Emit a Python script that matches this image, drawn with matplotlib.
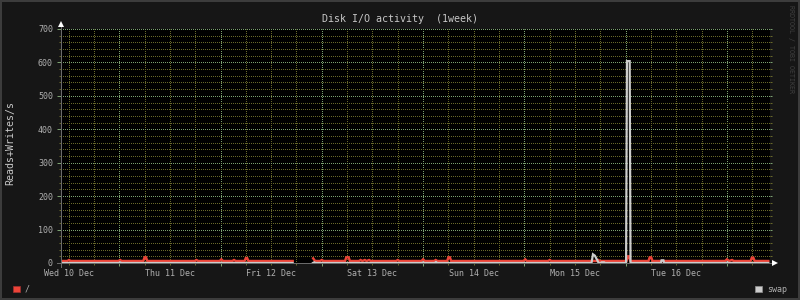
import numpy as np
import matplotlib
matplotlib.use("Agg")
import matplotlib.pyplot as plt
from matplotlib.patches import Rectangle
from matplotlib.transforms import offset_copy

plt.rcParams['font.family'] = ['DejaVu Sans Mono']

# ---------------- data (hours since Wed 10 Dec 00:00) ----------------
title = "Disk I/O activity  (1week)"
y_label = "Reads+Writes/s"
watermark = "RRDTOOL / TOBI OETIKER"
series_names = ["/", "swap"]
day_labels = ["Wed 10 Dec", "Thu 11 Dec", "Fri 12 Dec", "Sat 13 Dec",
              "Sun 14 Dec", "Mon 15 Dec", "Tue 16 Dec"]
x_start, x_end = 10.2, 178.2
y_max = 700

nan = float('nan')
root_hours = [10.2, 11.7, 12.1, 12.5,
              23.8, 24.2, 24.6,
              29.7, 30.0, 30.35, 30.65,
              41.9, 42.3, 42.7,
              47.8, 48.2, 48.6,
              50.8, 51.2, 51.6,
              53.7, 54.0, 54.3, 54.6,
              65.1, 65.2,
              69.95, 70.4,
              71.6, 72.0, 72.4,
              77.5, 77.8, 78.35, 78.65,
              80.8, 81.2, 81.6, 82.2, 82.6, 83.2, 83.6,
              89.6, 90.0, 90.4,
              95.6, 96.0, 96.4,
              98.6, 99.0, 99.4,
              101.7, 102.0, 102.35, 102.65,
              119.8, 120.2, 120.6,
              125.6, 126.0, 126.4,
              137.1, 137.5, 137.9,
              144.2, 144.5, 144.8, 145.1,
              149.4, 149.7, 150.05, 150.35,
              167.6, 168.0, 168.5, 169.2, 169.6,
              173.6, 173.9, 174.25, 174.55,
              177.8]
root_values = [6, 6, 9, 6,
               6, 9, 6,
               6, 17, 17, 6,
               6, 9, 6,
               6, 11, 6,
               6, 9, 6,
               6, 15, 15, 6,
               6, nan,
               14, 6,
               6, 9, 6,
               6, 17, 17, 6,
               6, 9, 6, 9, 6, 9, 6,
               6, 9, 6,
               6, 11, 6,
               6, 9, 6,
               6, 17, 17, 6,
               6, 11, 6,
               6, 9, 6,
               6, 9, 6,
               6, 20, 20, 6,
               6, 17, 17, 6,
               6, 11, 6, 9, 6,
               6, 16, 16, 6,
               6]

swap_hours = [10.2, 23.9, 24.2, 24.5,
              65.1, 65.2,
              69.9, 70.2, 70.5,
              95.7, 96.0, 96.3,
              98.75, 99.05, 99.35,
              135.9, 136.25, 136.7, 137.2, 137.6,
              138.1, 138.3, 138.9, 139.1,
              144.1, 144.3, 144.95, 145.15,
              152.35, 152.5, 152.95, 153.1,
              167.8, 168.1, 168.4,
              177.8]
swap_values = [0, 0, 2, 0,
               0, nan,
               0, 2, 0,
               0, 2, 0,
               0, 3, 0,
               0, 26, 22, 10, 0,
               0, 2, 2, 0,
               0, 604, 604, 0,
               0, 8, 8, 0,
               0, 2, 0,
               0]

assert len(root_hours) == len(root_values)
assert len(swap_hours) == len(swap_values)

# ---------------- style ----------------
W, H = 800, 300
bg = '#161616'
red = '#ec4438'
gray = '#cccccc'
major_c = '#7ba070'
minor_c = '#68682a'
axis_c = '#6a6a6a'
tick_c = '#b0b0b0'
title_c = '#c8c8c8'
px = 72 / 100.0  # points per pixel
dots = (0.5, (1, 1))

fig = plt.figure(figsize=(8, 3), dpi=100, facecolor=bg)
ax = fig.add_axes([61 / W, 37 / H, 709 / W, 234 / H])
ax.set_facecolor('black')
ax.set_xlim(x_start, x_end)
ax.set_ylim(0, y_max)

ax.plot(root_hours, root_values, color=red, lw=2.4 * px, solid_joinstyle='miter', zorder=2)
ax.plot(swap_hours, swap_values, color=gray, lw=2.2 * px, solid_joinstyle='miter', zorder=2.1)

# y ticks / grid
ax.set_yticks(np.arange(0, y_max + 1, 100))
ax.set_yticks(np.arange(0, y_max + 1, 20), minor=True)
# x ticks: major at midnight, minor every 6 h, labels at noon
midnights = [24 * (i + 1) for i in range(len(day_labels))]
minor_hours = [h for h in range(12, int(x_end), 6) if h % 24 != 0]
minor_labels = [day_labels[(h - 12) // 24] if h % 24 == 12 else '' for h in minor_hours]
ax.set_xticks(midnights)
ax.set_xticklabels([''] * len(midnights))
ax.set_xticks(minor_hours, labels=minor_labels, minor=True)

ax.grid(which='major', color=major_c, linestyle=dots, linewidth=1 * px)
ax.grid(which='minor', color=minor_c, linestyle=dots, linewidth=1 * px)
ax.set_axisbelow(True)

ax.tick_params(axis='y', which='major', direction='out', length=4 * px, width=1 * px,
               color=major_c, labelsize=6, labelcolor=tick_c, pad=4 * px, right=True)
ax.tick_params(axis='y', which='minor', direction='out', length=2 * px, width=1 * px,
               color=minor_c, right=True)
ax.tick_params(axis='x', which='major', direction='out', length=3 * px, width=1 * px,
               color=major_c, labelsize=6, labelcolor=tick_c)
ax.tick_params(axis='x', which='minor', direction='out', length=2 * px, width=1 * px,
               color=minor_c, labelsize=6, labelcolor=tick_c, pad=3.0)
for t in ax.yaxis.get_major_ticks():
    t.tick2line.set_markersize(2 * px)

for s in ['top', 'right']:
    ax.spines[s].set_visible(False)
for s in ['left', 'bottom']:
    ax.spines[s].set_color(axis_c)
    ax.spines[s].set_linewidth(1 * px)
    ax.spines[s].set_zorder(3)
ax.spines['left'].set_bounds(-12, y_max + 12)
ax.spines['bottom'].set_bounds(x_start - 0.95, x_end + 0.95)

# arrows
top_tr = offset_copy(ax.transAxes, fig=fig, x=0, y=5.5, units='dots')
ax.plot([0], [1], marker='^', ms=3.8, color='white', mec='white', mew=0,
        transform=top_tr, clip_on=False, zorder=4)
right_tr = offset_copy(ax.transAxes, fig=fig, x=4.5, y=0.5, units='dots')
ax.plot([1], [0], marker='>', ms=3.8, color='white', mec='white', mew=0,
        transform=right_tr, clip_on=False, zorder=4)

# texts
fig.text(0.5, 1 - 19 / H, title, ha='center', va='center', fontsize=7.2, color=title_c)
fig.text(10 / W, 1 - 143.5 / H, y_label, rotation=90, ha='center', va='center',
         fontsize=7.2, color=title_c)
fig.text(791 / W, 1 - 49 / H, watermark, rotation=270, ha='center', va='center',
         fontsize=4.8, color='#404040')

# legend
fig.patches.append(Rectangle((13.3 / W, 1 - 292.3 / H), 6.4 / W, 6 / H, transform=fig.transFigure,
                             facecolor=red, edgecolor='#a03030', linewidth=0.5))
fig.text(25 / W, 1 - 289 / H, series_names[0], ha='left', va='center', fontsize=6, color=tick_c)
fig.patches.append(Rectangle((755.3 / W, 1 - 292.3 / H), 6.4 / W, 6 / H, transform=fig.transFigure,
                             facecolor=gray, edgecolor='#909090', linewidth=0.5))
fig.text(766.7 / W, 1 - 289 / H, series_names[1], ha='left', va='center', fontsize=6, color=tick_c)

# border
fig.patches.append(Rectangle((0, 0), 1, 1, transform=fig.transFigure, fill=False,
                             edgecolor='#3c3c3c', linewidth=4 * px))

fig.savefig('out.png', dpi=100, facecolor=bg)
